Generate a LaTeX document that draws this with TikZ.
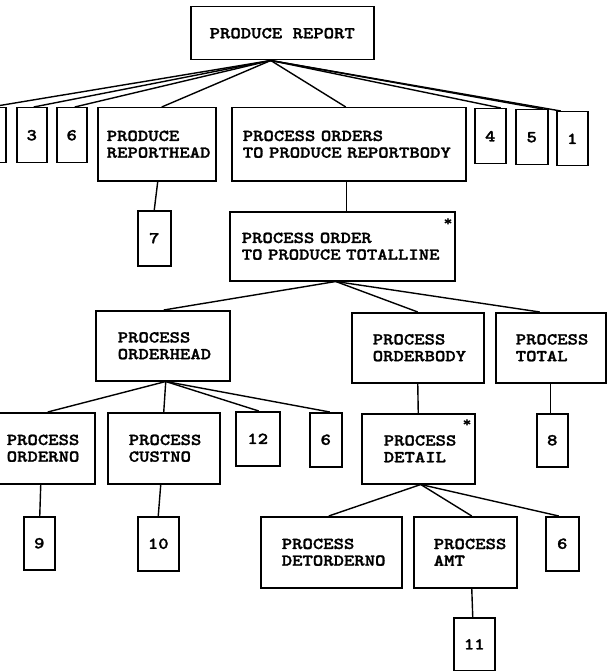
\documentclass[tikz,border=0pt]{standalone}
\usepackage{fontspec}
\newfontfamily\tw{lmmonolt10-bold.otf}[FakeStretch=1.19,FakeBold=1.6]
\tikzset{
  lbl/.style={font=\tw\fontsize{16.6}{16.7}\selectfont},
  box/.style={lbl, draw, line width=1.5pt, inner ysep=0pt, anchor=north west, align=left},
  num/.style={lbl, draw, line width=1.5pt, inner sep=0pt, anchor=north west},
  link/.style={line width=1.4pt},
  star/.style={font=\tw\fontsize{14}{14}\selectfont, inner sep=0pt},
}
\begin{document}
\begin{tikzpicture}[x=1pt,y=-1pt]
\clip (0,0) rectangle (607,671);
% top
\node[num, minimum width=183, minimum height=53] (pr) at (190,6) {PRODUCE REPORT};
% row 1
\node[num, minimum width=30, minimum height=55] (l) at (-25,107) {};
\node[num, minimum width=30, minimum height=55] (n3) at (16,107) {3};
\node[num, minimum width=30, minimum height=55] (n6a) at (56,107) {6};
\node[box, minimum height=73, inner xsep=9, text width=100] (rh) at (97,107) {PRODUCE\\REPORTHEAD};
\node[box, minimum height=73, inner xsep=11, text width=212] (po) at (231,107) {PROCESS ORDERS\\TO PRODUCE REPORTBODY};
\node[num, minimum width=31, minimum height=55] (n4) at (474,108) {4};
\node[num, minimum width=32, minimum height=55] (n5) at (515,109) {5};
\node[num, minimum width=31, minimum height=54] (n1) at (556,111) {1};
% row 2
\node[num, minimum width=33, minimum height=55] (n7) at (137,210) {7};
\node[box, minimum height=69, inner xsep=12, text width=201] (tl) at (229,211) {PROCESS ORDER\\TO PRODUCE TOTALLINE};
\node[star] (s1) at (448,222) {*};
% row 3
\node[box, minimum height=70, inner xsep=22, text width=90] (oh) at (95,310) {PROCESS\\ORDERHEAD};
\node[box, minimum height=70, inner xsep=21, text width=90] (ob) at (351,312) {PROCESS\\ORDERBODY};
\node[box, minimum height=70, inner xsep=20, text width=70] (to) at (495,312) {PROCESS\\TOTAL};
% row 4
\node[box, minimum height=71, inner xsep=8, text width=80] (on) at (-2,412) {PROCESS\\ORDERNO};
\node[box, minimum height=71, inner xsep=21, text width=70] (cu) at (107,412) {PROCESS\\CUSTNO};
\node[num, minimum width=44, minimum height=54] (n12) at (235,411) {12};
\node[num, minimum width=32, minimum height=54] (n6b) at (309,412) {6};
\node[box, minimum height=70, inner xsep=22, text width=69] (de) at (361,413) {PROCESS\\DETAIL};
\node[star] (s2) at (467,423) {*};
\node[num, minimum width=31, minimum height=53] (n8) at (536,413) {8};
% row 5
\node[num, minimum width=31, minimum height=53] (n9) at (23,516) {9};
\node[num, minimum width=41, minimum height=54] (n10) at (137,516) {10};
\node[box, minimum height=71, inner xsep=21, text width=99] (do) at (260,516) {PROCESS\\DETORDERNO};
\node[box, minimum height=71, inner xsep=20, text width=63] (am) at (413,516) {PROCESS\\AMT};
\node[num, minimum width=33, minimum height=54] (n6c) at (545,516) {6};
% row 6
\node[num, minimum width=41, minimum height=53] (n11) at (453,617) {11};
% connectors
\coordinate (prA) at ([xshift=-11.5pt]pr.south);
\draw[link] (prA) -- (l.north);
\draw[link] (prA) -- ([xshift=2pt]n3.north);
\draw[link] (prA) -- ([xshift=3pt]n6a.north);
\draw[link] (prA) -- ([xshift=5pt]rh.north);
\draw[link] (prA) -- ([xshift=-3pt]po.north);
\draw[link] (prA) -- ([xshift=10.5pt]n4.north);
\draw[link] (prA) -- ([xshift=11pt]n5.north);
\draw[link] (prA) -- ([xshift=-11.5pt]n1.north);
\draw[link] ([xshift=1pt]rh.south) -- (n7.north);
\draw[link] ([xshift=-2pt]po.south) -- ([xshift=4.5pt]tl.north);
\coordinate (tlA) at ([xshift=-6.5pt]tl.south);
\draw[link] (tlA) -- ([xshift=1pt]oh.north);
\draw[link] (tlA) -- (ob.north);
\draw[link] (tlA) -- ([xshift=-11pt]to.north);
\coordinate (ohA) at ([xshift=3pt]oh.south);
\draw[link] (ohA) -- ([xshift=1pt]on.north);
\draw[link] (ohA) -- (cu.north);
\draw[link] (ohA) -- ([xshift=1pt]n12.north);
\draw[link] (ohA) -- ([xshift=4pt]n6b.north);
\draw[link] (ob.south) -- (de.north);
\draw[link] ([xshift=0pt]to.south) -- ([xshift=-1.5pt]n8.north);
\draw[link] ([xshift=-6pt]on.south) -- ([xshift=0.5pt]n9.north);
\draw[link] ([xshift=-3pt]cu.south) -- (n10.north);
\coordinate (deA) at ([xshift=2.5pt]de.south);
\draw[link] (deA) -- ([xshift=-2.5pt]do.north);
\draw[link] (deA) -- ([xshift=6.5pt]am.north);
\draw[link] (deA) -- ([xshift=-3.5pt]n6c.north);
\draw[link] ([xshift=6.5pt]am.south) -- ([xshift=-1.5pt]n11.north);
\end{tikzpicture}
\end{document}
